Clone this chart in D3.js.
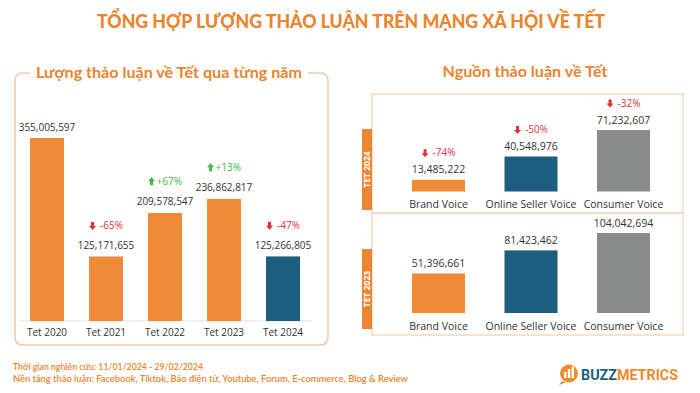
<!DOCTYPE html>
<html><head><meta charset="utf-8">
<script src="https://cdn.jsdelivr.net/npm/d3@7/dist/d3.min.js"></script>
<style>
body{margin:0;background:#fff;}
svg{display:block;font-family:"Open Sans",sans-serif;}
</style></head>
<body><svg id="c" width="700" height="393"></svg>
<script>
// ---- data ----
const mainTitle = "TỔNG HỢP LƯỢNG THẢO LUẬN TRÊN MẠNG XÃ HỘI VỀ TẾT";
const leftTitle = "Lượng thảo luận về Tết qua từng năm";
const rightTitle = "Nguồn thảo luận về Tết";
const years = ["Tet 2020","Tet 2021","Tet 2022","Tet 2023","Tet 2024"];
const yearValues = [355005597,125171655,209578547,236862817,125266805];
const yearChanges = [null,-65,67,13,-47];
const sources = ["Brand Voice","Online Seller Voice","Consumer Voice"];
const panels = ["TET 2024","TET 2023"];
const values2024 = [13485222,40548976,71232607];
const changes2024 = [-74,-50,-32];
const values2023 = [51396661,81423462,104042694];
const footer1 = "Thời gian nghiên cứu: 11/01/2024 - 29/02/2024";
const footer2 = "Nền tảng thảo luận: Facebook, Tiktok, Báo điện tử, Youtube, Forum, E-commerce, Blog & Review";

const ORANGE="#ef8a38", BLUE="#1d5e7f", GRAY="#8a8c8c", TITLE="#e9842f", RED="#e0303a", GREEN="#3cb94a", TXT="#333";
const fmt = d3.format(",");
const svg = d3.select("#c");

svg.append("text").attr("x",351).attr("y",28).attr("text-anchor","middle")
  .attr("font-family","Lato, sans-serif").attr("font-weight",900).attr("font-size",18.5)
  .attr("textLength",508).attr("lengthAdjust","spacingAndGlyphs")
  .attr("fill",TITLE).text(mainTitle);

// ---- left panel ----
const lt = svg.append("text").attr("x",169).attr("y",78).attr("text-anchor","middle")
  .attr("font-family","Lato, sans-serif").attr("font-weight",700).attr("font-size",16)
  .attr("textLength",266).attr("lengthAdjust","spacingAndGlyphs")
  .attr("fill",TITLE).text(leftTitle);
const bb = lt.node().getBBox();
const L=15,R=328,T=73,B=345,r=8;
svg.append("path").attr("fill","none").attr("stroke","#f5c6a8").attr("stroke-width",1.5)
  .attr("d",`M${bb.x-6},${T} L${L+r},${T} Q${L},${T} ${L},${T+r} L${L},${B-r} Q${L},${B} ${L+r},${B} L${R-r},${B} Q${R},${B} ${R},${B-r} L${R},${T+r} Q${R},${T} ${R-r},${T} L${bb.x+bb.width+6},${T}`);

const x = d3.scaleBand().domain(years).range([17.5,312.5]).paddingInner(0.424).paddingOuter(0.212);
const y = d3.scaleLinear().domain([0,d3.max(yearValues)]).range([321,138]);
svg.append("line").attr("x1",20).attr("x2",312).attr("y1",321).attr("y2",321).attr("stroke","#e3e3e3");
const data = years.map((c,i)=>({c,v:yearValues[i],ch:yearChanges[i]}));
svg.selectAll(".yb").data(data).join("rect").attr("x",d=>x(d.c)).attr("width",x.bandwidth())
  .attr("y",d=>y(d.v)).attr("height",d=>y(0)-y(d.v)).attr("fill",(d,i)=>i===4?BLUE:ORANGE);
svg.selectAll(".yv").data(data).join("text").attr("x",d=>x(d.c)+x.bandwidth()/2).attr("y",d=>y(d.v)-7.5)
  .attr("text-anchor","middle").attr("font-size",10).attr("fill",TXT).text(d=>fmt(d.v));
svg.selectAll(".yl").data(data).join("text").attr("x",d=>x(d.c)+x.bandwidth()/2).attr("y",336)
  .attr("text-anchor","middle").attr("font-size",10).attr("fill",TXT).text(d=>d.c);

function changeLabel(cx, base, ch, fs){
  const up = ch>0, col = up?GREEN:RED;
  const g = svg.append("g");
  const t = g.append("text").attr("y",base).attr("font-size",fs).attr("fill",col)
    .text((up?"+":"-")+Math.abs(ch)+"%");
  const w = t.node().getComputedTextLength();
  const gap = up?1.5:4, aw=7;
  const total = aw+gap+w, x0 = cx-total/2;
  t.attr("x",x0+aw+gap);
  const ay = base-fs*0.36;
  let p;
  if(up) p=`M${x0+3.5},${ay-4.5} L${x0+7},${ay-0.5} L${x0+5},${ay-0.5} L${x0+5},${ay+3.5} L${x0+2},${ay+3.5} L${x0+2},${ay-0.5} L${x0},${ay-0.5}Z`;
  else p=`M${x0+3.5},${ay+4.5} L${x0+7},${ay+0.5} L${x0+5},${ay+0.5} L${x0+5},${ay-3.5} L${x0+2},${ay-3.5} L${x0+2},${ay+0.5} L${x0},${ay+0.5}Z`;
  g.append("path").attr("d",p).attr("fill",col);
}
data.forEach(d=>{ if(d.ch!==null) changeLabel(x(d.c)+x.bandwidth()/2, y(d.v)-27.5, d.ch, 10); });

// ---- right panel ----
svg.append("text").attr("x",525).attr("y",77).attr("text-anchor","middle")
  .attr("font-family","Lato, sans-serif").attr("font-weight",700).attr("font-size",15.5)
  .attr("textLength",165).attr("lengthAdjust","spacingAndGlyphs")
  .attr("fill",TITLE).text(rightTitle);
const xs = d3.scaleBand().domain(sources).range([392.25,669.75]).paddingInner(0.427).paddingOuter(0.2135);
const boxes = [
  {name:panels[0], vals:values2024, ch:changes2024, top:94, bot:213, base:191.5, peak:130, tab:[129,210], lab:208},
  {name:panels[1], vals:values2023, ch:null, top:213, bot:335, base:313, peak:233, tab:[249,329], lab:330}
];
const colors=[ORANGE,BLUE,GRAY];
boxes.forEach(bx=>{
  svg.append("rect").attr("x",372).attr("y",bx.top).attr("width",311).attr("height",bx.bot-bx.top)
    .attr("fill","none").attr("stroke","#f6d8c0").attr("stroke-width",1.5);
  svg.append("rect").attr("x",362).attr("y",bx.tab[0]).attr("width",10).attr("height",bx.tab[1]-bx.tab[0]).attr("fill","#ec8633");
  const cy=(bx.tab[0]+bx.tab[1])/2;
  svg.append("text").attr("transform",`translate(370.3,${cy}) rotate(-90)`).attr("text-anchor","middle")
    .attr("font-size",8.5).attr("font-weight",700).attr("fill","#fff").text(bx.name);
  const ys = d3.scaleLinear().domain([0,d3.max(bx.vals)]).range([bx.base,bx.peak]);
  const dd = sources.map((s,i)=>({s,v:bx.vals[i],ch:bx.ch?bx.ch[i]:null,i}));
  svg.selectAll(null).data(dd).join("rect").attr("x",d=>xs(d.s)).attr("width",xs.bandwidth())
    .attr("y",d=>ys(d.v)).attr("height",d=>ys(0)-ys(d.v)).attr("fill",d=>colors[d.i]);
  svg.selectAll(null).data(dd).join("text").attr("x",d=>xs(d.s)+xs.bandwidth()/2).attr("y",d=>ys(d.v)-6.5)
    .attr("text-anchor","middle").attr("font-size",10.5).attr("fill",TXT).text(d=>fmt(d.v));
  svg.selectAll(null).data(dd).join("text").attr("x",d=>xs(d.s)+xs.bandwidth()/2).attr("y",bx.lab)
    .attr("text-anchor","middle").attr("font-size",10.5).attr("fill",TXT).text(d=>d.s);
  dd.forEach(d=>{ if(d.ch!==null) changeLabel(xs(d.s)+xs.bandwidth()/2, ys(d.v)-23.5, d.ch, 10); });
});

// ---- footer ----
svg.append("text").attr("x",13).attr("y",369.5).attr("font-family","Lato, sans-serif").attr("font-size",9)
  .attr("font-weight",600)
  .attr("textLength",190).attr("lengthAdjust","spacingAndGlyphs")
  .attr("fill",TITLE).text(footer1);
svg.append("text").attr("x",13).attr("y",382).attr("font-family","Lato, sans-serif").attr("font-size",9)
  .attr("font-weight",600)
  .attr("textLength",395).attr("lengthAdjust","spacingAndGlyphs")
  .attr("fill",TITLE).text(footer2);
// logo
const lg = svg.append("g");
lg.append("path").attr("d","M562,381 L559,385 L566,382.5Z").attr("fill","#ef8a2e");
lg.append("circle").attr("cx",569).attr("cy",373.5).attr("r",9).attr("fill","#ef8a2e");
[[564,372,2.4,6],[567.8,369,2.4,9],[571.6,366.5,2.4,11.5]].forEach(b=>
  lg.append("rect").attr("x",b[0]).attr("y",b[1]).attr("width",b[2]).attr("height",b[3]).attr("fill","#fff"));
const lt2 = lg.append("text").attr("x",581).attr("y",380).attr("font-family","Roboto, sans-serif")
  .attr("font-weight",700).attr("font-size",15.5).attr("textLength",97).attr("lengthAdjust","spacingAndGlyphs");
lt2.append("tspan").attr("fill","#1d5e7f").text("BUZZ");
lt2.append("tspan").attr("fill","#ef8a2e").text("METRICS");
</script></body></html>
